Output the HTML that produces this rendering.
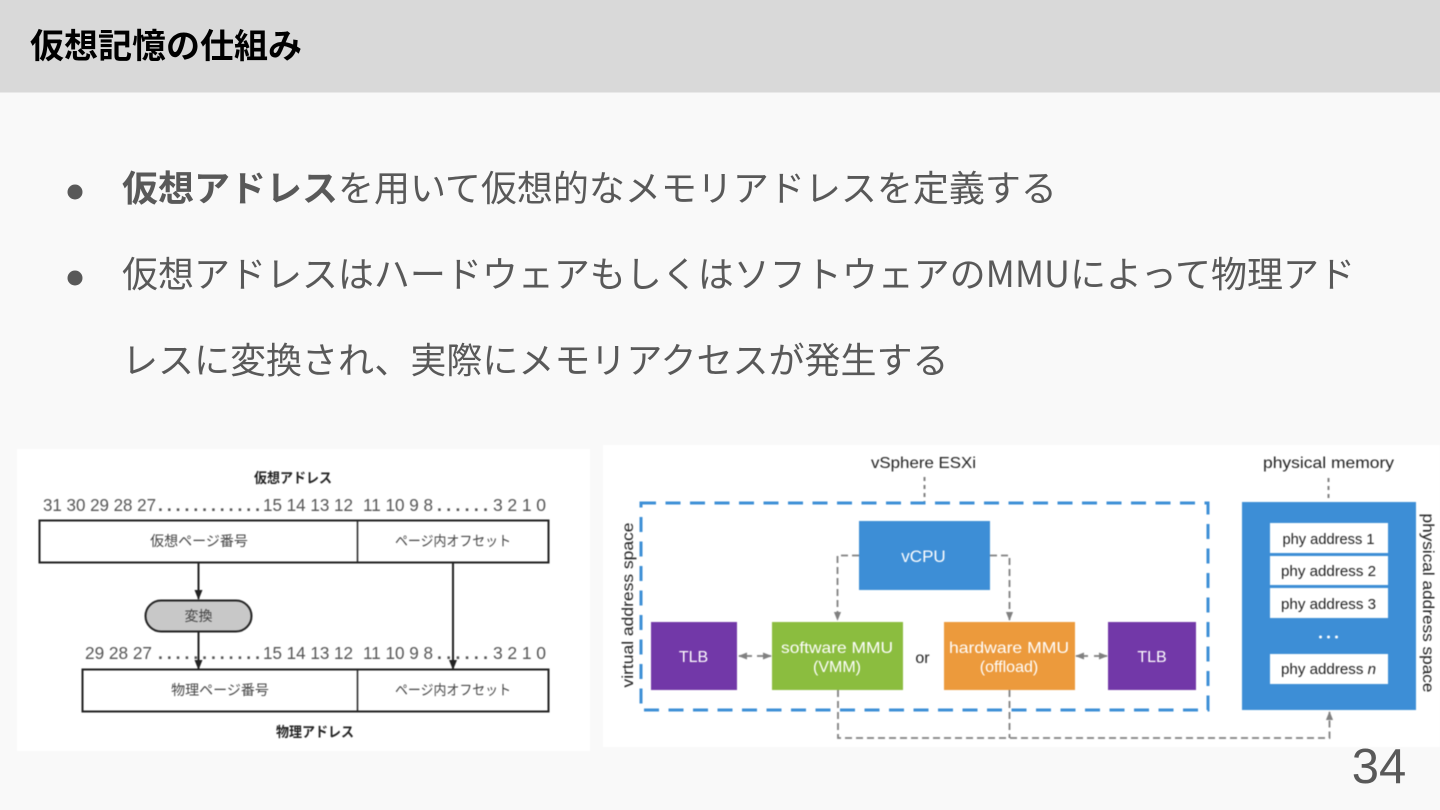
<!DOCTYPE html>
<html lang="ja">
<head>
<meta charset="utf-8">
<style>
html,body{margin:0;padding:0;width:1440px;height:810px;overflow:hidden;background:#f9f9f9}
svg{display:block;position:absolute;left:0;top:0}
text{font-family:"Liberation Sans","Noto Sans CJK JP",sans-serif}
.jp{font-family:"Noto Sans CJK JP","Liberation Sans",sans-serif}
.b{fill:#595959;font-size:36px;font-weight:400}
.l{fill:#444;font-size:14px;font-weight:400}
.n{fill:#555;font-size:17.500px}
.w{fill:#fff;font-size:16px;text-anchor:middle}
.d{fill:#222;font-size:15px;text-anchor:middle}
.soft{filter:blur(.4px)}
</style>
</head>
<body>
<svg width="1440" height="810" viewBox="0 0 1440 810" xmlns="http://www.w3.org/2000/svg">
<defs>
<marker id="k" viewBox="0 0 10 10" refX="9" refY="5" markerWidth="10" markerHeight="10" markerUnits="userSpaceOnUse" orient="auto"><path d="M0 1L10 5L0 9Z" fill="#222"/></marker>
<marker id="g" viewBox="0 0 10 10" refX="9" refY="5" markerWidth="9" markerHeight="9" markerUnits="userSpaceOnUse" orient="auto"><path d="M0 1L10 5L0 9Z" fill="#808080"/></marker>
</defs>

<rect x="0" y="0" width="1440" height="92.500" fill="#d9d9d9"/>
<text class="jp" x="30" y="58" font-size="34" font-weight="700" fill="#000">仮想記憶の仕組み</text>

<circle cx="75" cy="192" r="7.500" fill="#595959"/>
<circle cx="75" cy="278" r="7.500" fill="#595959"/>
<text class="jp b" x="122" y="201"><tspan font-weight="700">仮想アドレス</tspan>を用いて仮想的なメモリアドレスを定義する</text>
<text class="jp b" x="122" y="287" textLength="1233" lengthAdjust="spacing">仮想アドレスはハードウェアもしくはソフトウェアのMMUによって物理アド</text>
<text class="jp b" x="122" y="373">レスに変換され、実際にメモリアクセスが発生する</text>

<g class="soft">
<rect x="17" y="449" width="573" height="302" fill="#fff"/>
<text class="jp" x="293" y="483" font-size="14" font-weight="700" fill="#222" text-anchor="middle" textLength="78" lengthAdjust="spacingAndGlyphs">仮想アドレス</text>
<text class="n" x="43" y="511" textLength="113" lengthAdjust="spacingAndGlyphs">31 30 29 28 27</text>
<text class="n" x="158" y="511" font-weight="700" fill="#333" textLength="102" lengthAdjust="spacing">............</text>
<text class="n" x="263" y="511" textLength="90" lengthAdjust="spacingAndGlyphs">15 14 13 12</text>
<text class="n" x="363" y="511" textLength="70" lengthAdjust="spacingAndGlyphs">11 10 9 8</text>
<text class="n" x="437" y="511" font-weight="700" fill="#333" textLength="51" lengthAdjust="spacing">......</text>
<text class="n" x="493" y="511" textLength="53" lengthAdjust="spacing">3 2 1 0</text>

<rect x="39.500" y="520.500" width="509" height="42" fill="#fff" stroke="#222" stroke-width="2"/>
<line x1="357.500" y1="520" x2="357.500" y2="563" stroke="#222" stroke-width="1.500"/>
<text class="jp l" x="199" y="546" text-anchor="middle">仮想ページ番号</text>
<text class="jp l" x="453" y="546" text-anchor="middle" textLength="116" lengthAdjust="spacingAndGlyphs">ページ内オフセット</text>

<line x1="198.500" y1="563" x2="198.500" y2="599" stroke="#222" stroke-width="2" marker-end="url(#k)"/>
<rect x="145.500" y="600.500" width="106" height="31" rx="15.500" fill="#c8c8c8" stroke="#222" stroke-width="2"/>
<text class="jp l" x="198.500" y="621" text-anchor="middle">変換</text>

<text class="n" x="85" y="659" textLength="67" lengthAdjust="spacingAndGlyphs">29 28 27</text>
<text class="n" x="158" y="659" font-weight="700" fill="#333" textLength="102" lengthAdjust="spacing">............</text>
<text class="n" x="263" y="659" textLength="90" lengthAdjust="spacingAndGlyphs">15 14 13 12</text>
<text class="n" x="363" y="659" textLength="70" lengthAdjust="spacingAndGlyphs">11 10 9 8</text>
<text class="n" x="437" y="659" font-weight="700" fill="#333" textLength="51" lengthAdjust="spacing">......</text>
<text class="n" x="493" y="659" textLength="53" lengthAdjust="spacing">3 2 1 0</text>

<rect x="82.500" y="669.500" width="466" height="42" fill="#fff" stroke="#222" stroke-width="2"/>
<line x1="357.500" y1="669" x2="357.500" y2="712" stroke="#222" stroke-width="1.500"/>
<text class="jp l" x="220" y="695" text-anchor="middle">物理ページ番号</text>
<text class="jp l" x="453" y="695" text-anchor="middle" textLength="116" lengthAdjust="spacingAndGlyphs">ページ内オフセット</text>

<line x1="198.500" y1="632" x2="198.500" y2="669" stroke="#222" stroke-width="2" marker-end="url(#k)"/>
<line x1="453" y1="563" x2="453" y2="669" stroke="#222" stroke-width="2" marker-end="url(#k)"/>
<text class="jp" x="315" y="737" font-size="14" font-weight="700" fill="#222" text-anchor="middle" textLength="78" lengthAdjust="spacingAndGlyphs">物理アドレス</text>
</g>

<g class="soft">
<rect x="603" y="445" width="837" height="302" fill="#fff"/>
<text x="923.500" y="468" font-size="16" fill="#222" text-anchor="middle" textLength="105" lengthAdjust="spacingAndGlyphs">vSphere ESXi</text>
<text x="1328.500" y="468" font-size="16" fill="#222" text-anchor="middle" textLength="131" lengthAdjust="spacingAndGlyphs">physical memory</text>

<line x1="924.500" y1="477" x2="924.500" y2="502" stroke="#808080" stroke-width="2" stroke-dasharray="4 4"/>
<line x1="1328.500" y1="478" x2="1328.500" y2="502" stroke="#808080" stroke-width="2" stroke-dasharray="4 4"/>

<rect x="641" y="503" width="567" height="207" fill="none" stroke="#3d8fd6" stroke-width="3" stroke-dasharray="15 9.500"/>

<text x="0" y="0" font-size="16" fill="#222" text-anchor="middle" transform="translate(633,605) rotate(-90)" textLength="165" lengthAdjust="spacingAndGlyphs">virtual address space</text>
<text x="0" y="0" font-size="16" fill="#222" text-anchor="middle" transform="translate(1423,603) rotate(90)" textLength="179" lengthAdjust="spacingAndGlyphs">physical address space</text>

<rect x="859" y="521" width="131" height="69" fill="#3d8ed6"/>
<text class="w" x="923.500" y="562" style="font-size:17px">vCPU</text>
<rect x="651" y="622" width="86" height="68" fill="#7238a8"/>
<text class="w" x="693.500" y="662">TLB</text>
<rect x="772" y="622" width="131" height="68" fill="#8bbd3f"/>
<text class="w" x="837" y="653" textLength="112" lengthAdjust="spacingAndGlyphs">software MMU</text>
<text class="w" x="837" y="672">(VMM)</text>
<text x="922.500" y="663" font-size="16" fill="#222" text-anchor="middle">or</text>
<rect x="944" y="622" width="131" height="68" fill="#ec9a3c"/>
<text class="w" x="1009" y="653" textLength="120" lengthAdjust="spacingAndGlyphs">hardware MMU</text>
<text class="w" x="1009" y="672">(offload)</text>
<rect x="1108" y="622" width="88" height="68" fill="#7238a8"/>
<text class="w" x="1152" y="662">TLB</text>

<rect x="1242" y="502" width="174" height="208" fill="#3d8ed6"/>
<rect x="1270" y="523" width="118" height="30" fill="#fff"/>
<rect x="1270" y="556" width="118" height="29" fill="#fff"/>
<rect x="1270" y="588" width="118" height="30" fill="#fff"/>
<rect x="1270" y="654" width="118" height="30" fill="#fff"/>
<text class="d" x="1328.500" y="544" textLength="92" lengthAdjust="spacingAndGlyphs">phy address 1</text>
<text class="d" x="1328.500" y="576" textLength="95" lengthAdjust="spacingAndGlyphs">phy address 2</text>
<text class="d" x="1328.500" y="609" textLength="95" lengthAdjust="spacingAndGlyphs">phy address 3</text>
<text class="d" x="1328.500" y="674" textLength="95" lengthAdjust="spacingAndGlyphs">phy address <tspan font-style="italic">n</tspan></text>
<circle cx="1320.500" cy="637" r="1.500" fill="#fff"/>
<circle cx="1328.500" cy="637" r="1.500" fill="#fff"/>
<circle cx="1336.500" cy="637" r="1.500" fill="#fff"/>

<g fill="none" stroke="#808080" stroke-width="1.800" stroke-dasharray="7 4">
<path d="M859 555.500H837.500V620" marker-end="url(#g)"/>
<path d="M990 555.500H1009.500V620" marker-end="url(#g)"/>
<path d="M838 690V738H1329.500V712" marker-end="url(#g)"/>
<path d="M1009.500 690V738"/>
</g>
<g stroke="#808080" stroke-width="1.800" fill="none">
<line x1="752" y1="656" x2="739" y2="656" marker-end="url(#g)"/>
<line x1="757" y1="656" x2="771" y2="656" marker-end="url(#g)"/>
<line x1="1088" y1="656" x2="1076" y2="656" marker-end="url(#g)"/>
<line x1="1094" y1="656" x2="1107" y2="656" marker-end="url(#g)"/>
</g>
</g>

<text x="1379" y="783" font-size="49" fill="#595959" text-anchor="middle">34</text>
</svg>
</body>
</html>
